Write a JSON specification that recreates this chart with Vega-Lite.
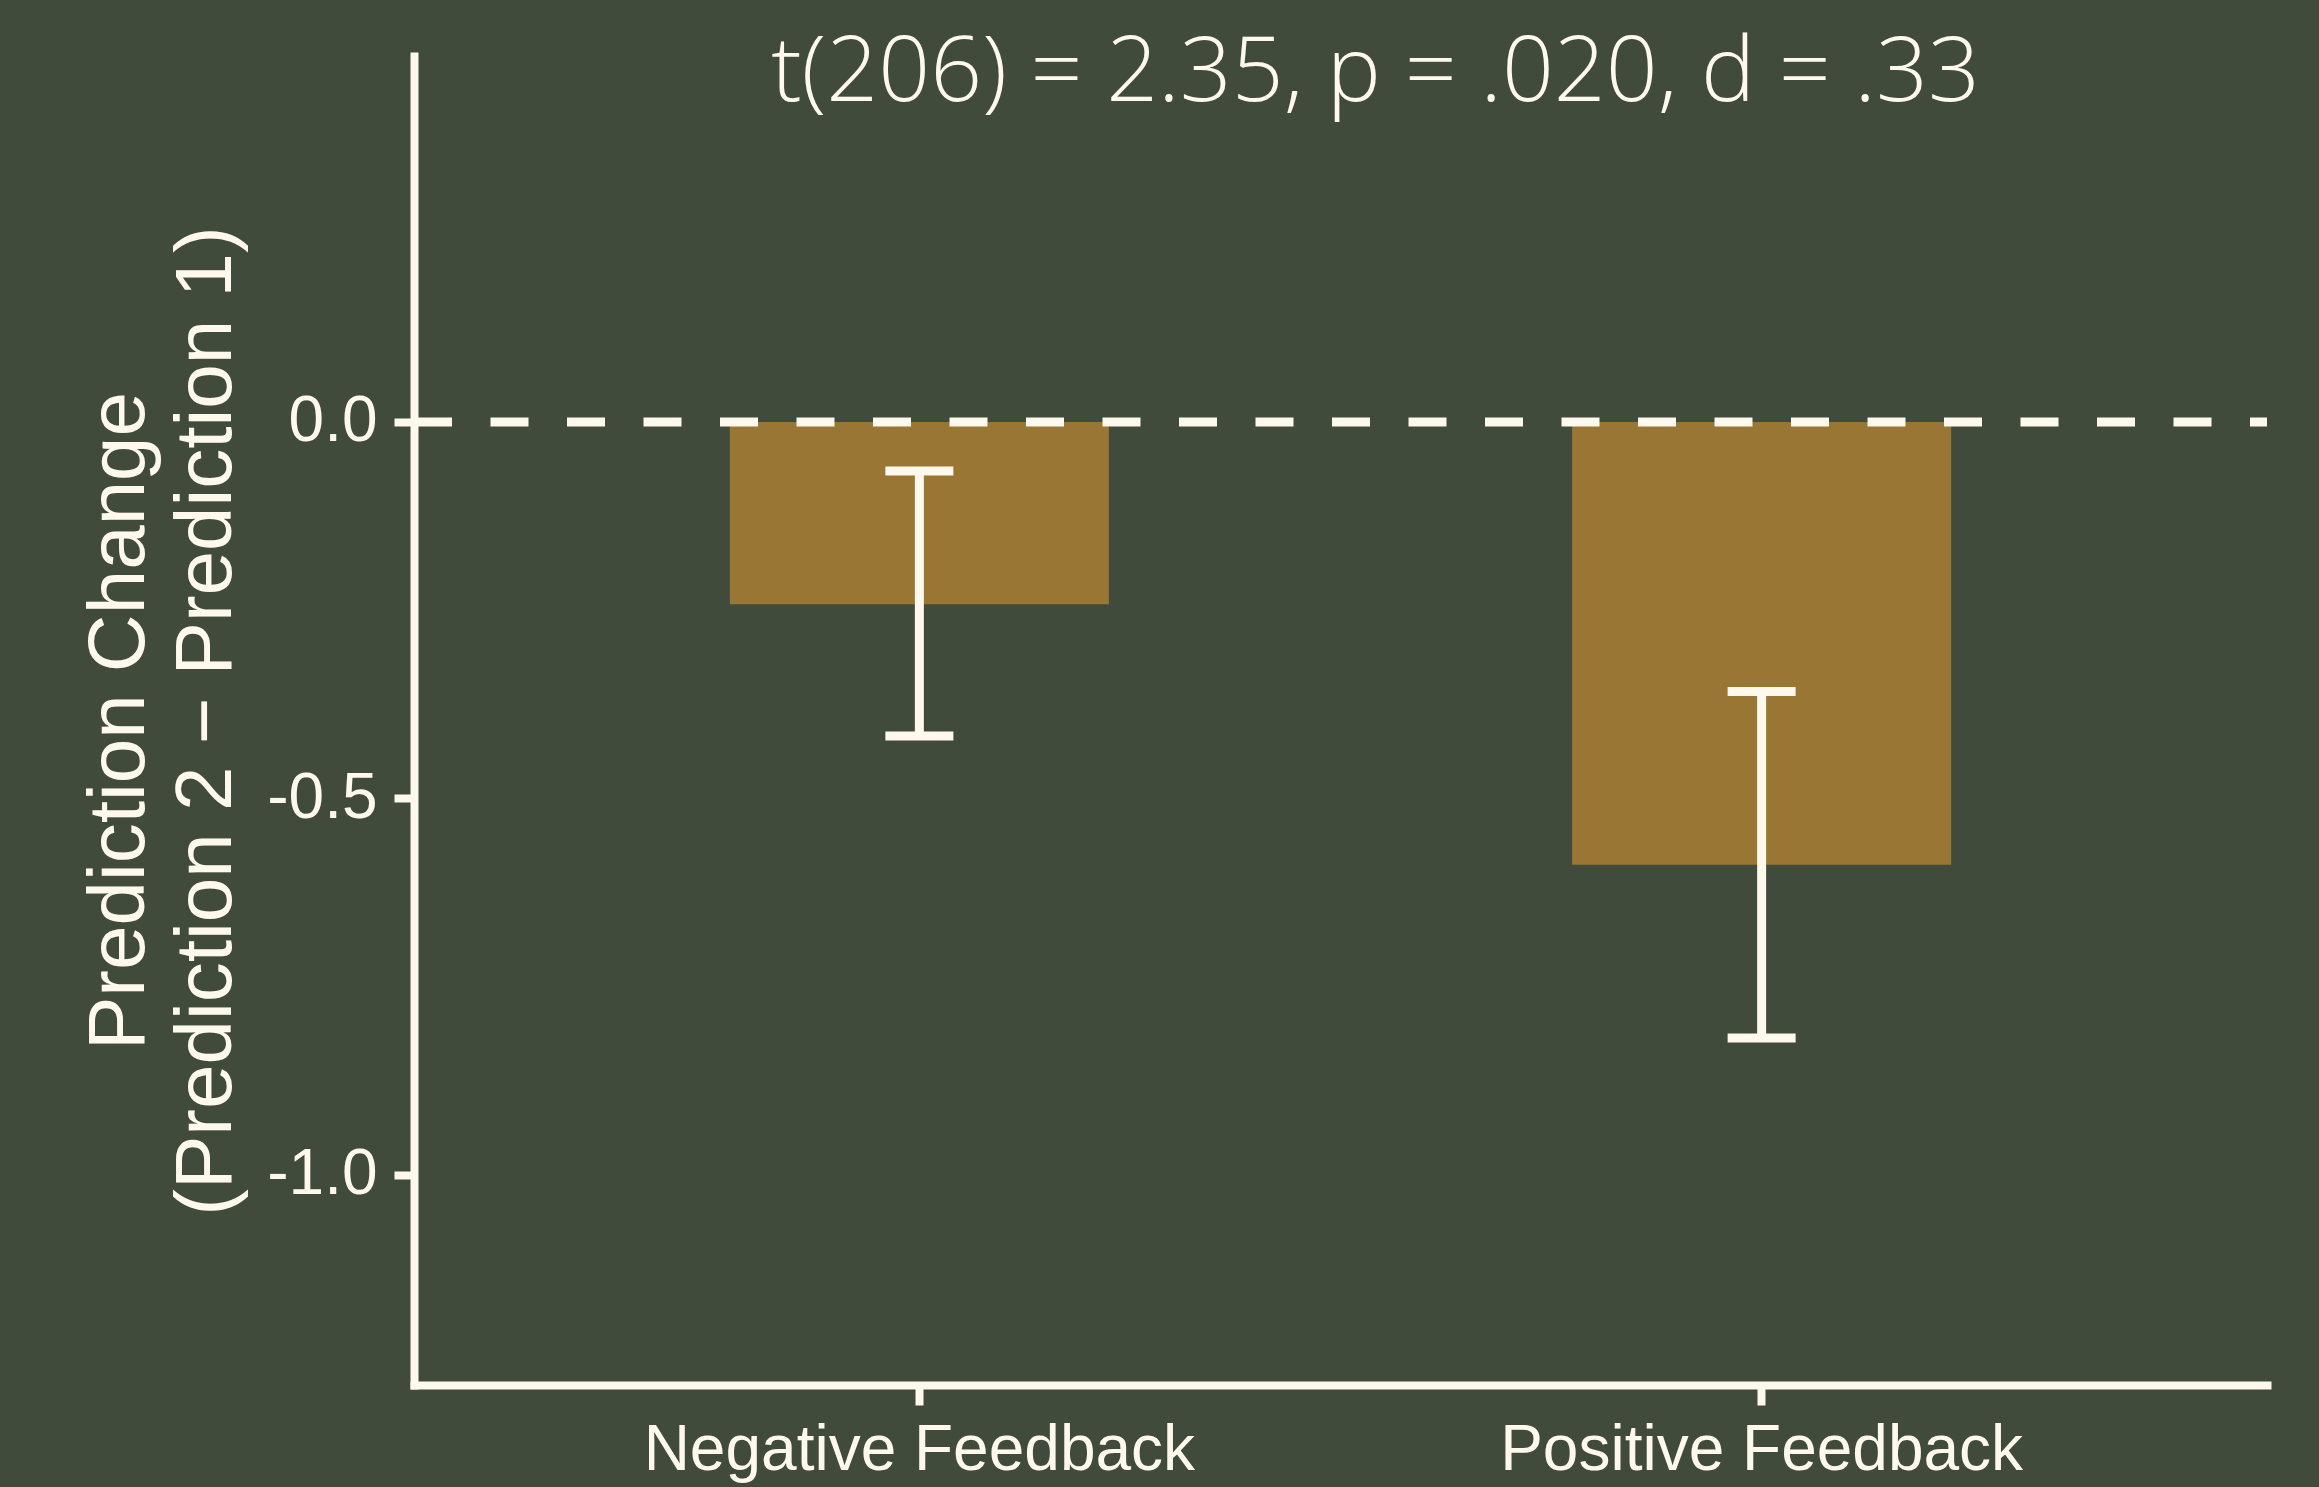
{
  "$schema": "https://vega.github.io/schema/vega-lite/v6.json",
  "width": 1853,
  "height": 1329,
  "autosize": {"type": "none"},
  "padding": {"left": 414, "top": 56, "right": 52, "bottom": 102},
  "background": "#404B3C",
  "title": {
    "text": "t(206) = 2.35, p = .020, d = .33",
    "font": "Open Sans",
    "fontWeight": 300,
    "fontSize": 91,
    "color": "#FFF8ED",
    "anchor": "middle",
    "frame": "group",
    "dx": 35,
    "offset": -136,
    "baseline": "alphabetic"
  },
  "data": {
    "values": [
      {"condition": "Negative Feedback", "change": -0.242, "lower": -0.417, "upper": -0.065},
      {"condition": "Positive Feedback", "change": -0.588, "lower": -0.818, "upper": -0.358}
    ]
  },
  "layer": [
    {
      "mark": {"type": "bar", "color": "#9A7635"},
      "encoding": {
        "x": {
          "field": "condition",
          "type": "nominal",
          "sort": null,
          "scale": {"paddingInner": 0.55, "paddingOuter": 0.375},
          "axis": {"title": null, "labelAngle": 0, "labelPadding": 13, "labelLimit": 0}
        },
        "y": {
          "field": "change",
          "type": "quantitative",
          "scale": {"domain": [-1.279, 0.486], "nice": false, "zero": false},
          "axis": {
            "values": [-1, -0.5, 0],
            "labelExpr": "replace(format(datum.value, '.1f'), '\u2212', '-')",
            "labelPadding": 17,
            "title": ["Prediction Change", "(Prediction 2 \u2212 Prediction 1)"],
            "titleFont": "Liberation Sans",
            "titleFontSize": 80,
            "titleFontWeight": "normal",
            "titleColor": "#FFF8ED",
            "titleAngle": 270,
            "titleAlign": "center",
            "titleBaseline": "alphabetic",
            "titleLineHeight": 87,
            "titleX": -271,
            "titleY": 664.5
          }
        }
      }
    },
    {
      "data": {"values": [{}]},
      "mark": {"type": "rule", "color": "#FFF8ED", "strokeWidth": 9, "strokeDash": [38, 38.5], "strokeDashOffset": 21},
      "encoding": {"y": {"datum": 0}}
    },
    {
      "mark": {"type": "rule", "color": "#FFF8ED", "strokeWidth": 9, "opacity": 1},
      "encoding": {
        "x": {"field": "condition", "type": "nominal", "sort": null},
        "y": {"field": "lower", "type": "quantitative"},
        "y2": {"field": "upper"}
      }
    },
    {
      "mark": {"type": "tick", "color": "#FFF8ED", "size": 68, "thickness": 9, "opacity": 1},
      "encoding": {
        "x": {"field": "condition", "type": "nominal", "sort": null},
        "y": {"field": "lower", "type": "quantitative"}
      }
    },
    {
      "mark": {"type": "tick", "color": "#FFF8ED", "size": 68, "thickness": 9, "opacity": 1},
      "encoding": {
        "x": {"field": "condition", "type": "nominal", "sort": null},
        "y": {"field": "upper", "type": "quantitative"}
      }
    }
  ],
  "config": {
    "view": {"stroke": null},
    "axis": {
      "grid": false,
      "domainColor": "#FFF8ED",
      "domainWidth": 8,
      "domainCap": "square",
      "tickColor": "#FFF8ED",
      "tickWidth": 8,
      "tickSize": 20,
      "labelColor": "#FFF8ED",
      "labelFont": "Liberation Sans",
      "labelFontSize": 64
    }
  }
}
